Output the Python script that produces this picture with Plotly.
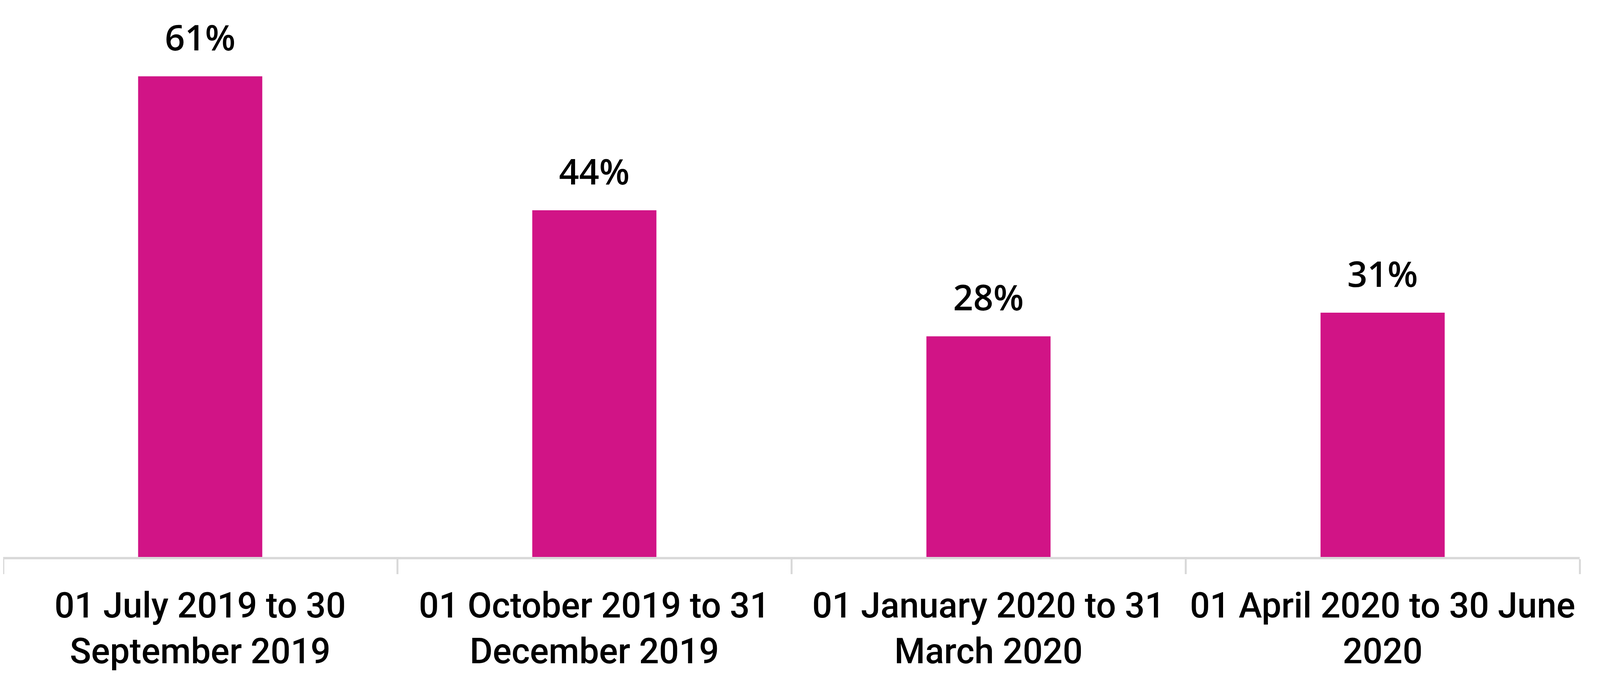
import plotly.graph_objects as go

# quarters and share values (%)
quarters = [
    "01 July 2019 to 30<br>September 2019",
    "01 October 2019 to 31<br>December 2019",
    "01 January 2020 to 31<br>March 2020",
    "01 April 2020 to 30 June<br>2020",
]
values = [61, 44, 28, 31]
labels = ["61%", "44%", "28%", "31%"]

bar_color = "#D11486"
axis_grey = "#D9D9D9"

fig = go.Figure(
    go.Bar(
        x=quarters,
        y=values,
        marker=dict(color=bar_color, line=dict(width=0)),
        hoverinfo="skip",
    )
)

# value labels above each bar
annotations = [
    dict(
        x=q, y=v, text=t, showarrow=False,
        xref="x", yref="y", yanchor="bottom", yshift=38,
        font=dict(family="Open Sans", size=90, color="#000000", weight=600),
    )
    for q, v, t in zip(quarters, values, labels)
]

fig.update_layout(
    width=4080,
    height=1752,
    margin=dict(l=0, r=44, t=40, b=335),
    paper_bgcolor="white",
    plot_bgcolor="white",
    bargap=0.685,
    showlegend=False,
    annotations=annotations,
    font=dict(family="Roboto", color="#000000"),
)

fig.update_xaxes(
    showline=True, linecolor=axis_grey, linewidth=5.5,
    ticks="outside", tickson="boundaries", ticklen=38, tickwidth=5, tickcolor=axis_grey,
    ticklabelstandoff=41, tickangle=0,
    tickfont=dict(family="Roboto", size=90, color="#000000", weight=500),
    showgrid=False, zeroline=False,
)
fig.update_yaxes(
    range=[0, 68.3], visible=False, showgrid=False, zeroline=False,
)

fig.write_html("out.html")
